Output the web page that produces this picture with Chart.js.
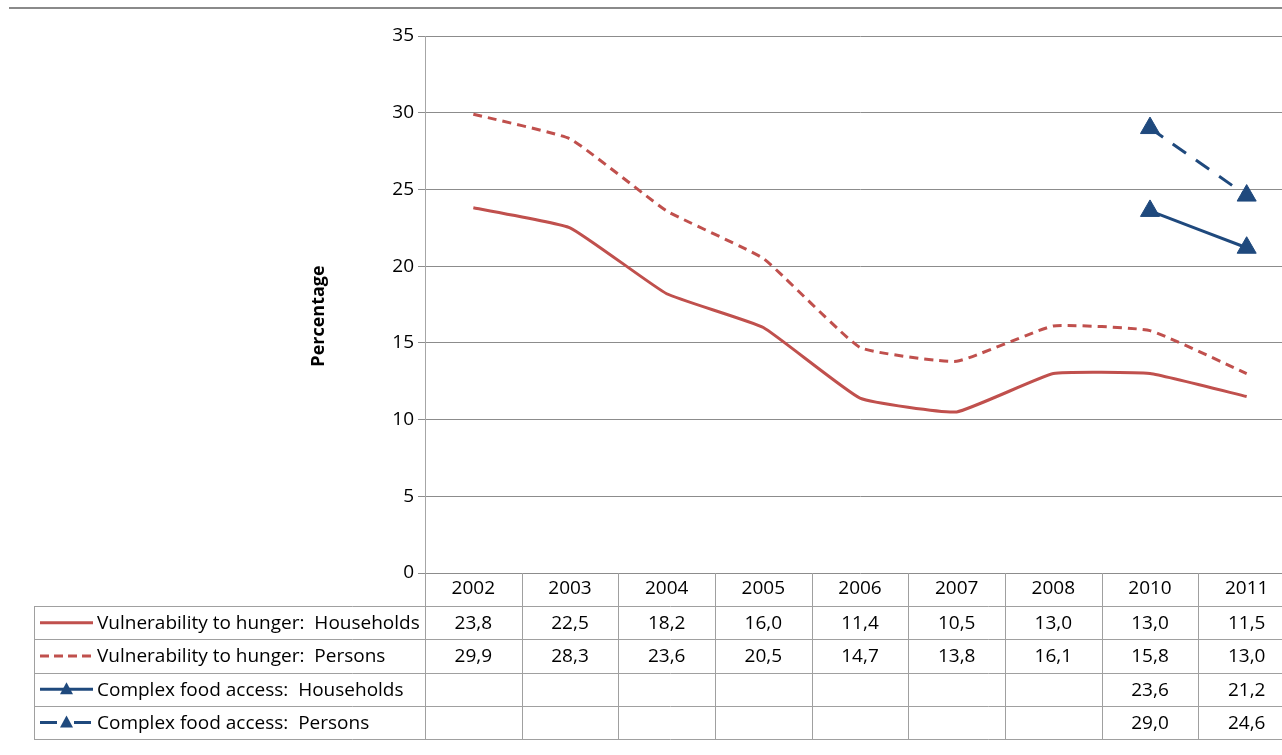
<!DOCTYPE html>
<html>
<head>
<meta charset="utf-8">
<script src="https://cdn.jsdelivr.net/npm/chart.js@4/dist/chart.umd.min.js"></script>
<style>
  html, body { margin: 0; padding: 0; background: #fff; overflow: hidden; }
  #wrap { width: 1307px; height: 755px; position: relative; }
</style>
</head>
<body>
<div id="wrap"><canvas id="chart" width="1307" height="755"></canvas></div>
<script>
// Survey years (no 2009 survey)
const years = ['2002', '2003', '2004', '2005', '2006', '2007', '2008', '2010', '2011'];

// Percentages per year
const hungerHouseholds = [23.8, 22.5, 18.2, 16.0, 11.4, 10.5, 13.0, 13.0, 11.5];
const hungerPersons = [29.9, 28.3, 23.6, 20.5, 14.7, 13.8, 16.1, 15.8, 13.0];
const foodAccessHouseholds = [null, null, null, null, null, null, null, 23.6, 21.2];
const foodAccessPersons = [null, null, null, null, null, null, null, 29.0, 24.6];

const seriesNames = [
  'Vulnerability to hunger:  Households',
  'Vulnerability to hunger:  Persons',
  'Complex food access:  Households',
  'Complex food access:  Persons'
];

const yMin = 0, yMax = 35, yStep = 5;
const yTitle = 'Percentage';

const RED = '#C0504D';
const BLUE = '#1F497D';
const GRID = '#8c8c8c';
const TABLE_LINE = '#a0a0a0';
const FONT = '"Open Sans", "Liberation Sans", sans-serif';
const FONT_SIZE = 19;

const fmt = v => (v === null || v === undefined) ? '' : v.toFixed(1).replace('.', ',');

// Draws the frame line, the axis title and the data table under the plot
const tablePlugin = {
  id: 'dataTable',
  afterDraw(chart) {
    const ctx = chart.ctx;
    const ca = chart.chartArea;
    const n = years.length;
    const colW = (ca.right - ca.left) / n;
    const headerBottom = ca.bottom + 33;
    const rowH = 33.25;
    const tableLeft = 34;
    const tableBottom = headerBottom + rowH * 4;
    const right = chart.width;

    ctx.save();

    // frame line across the top
    ctx.strokeStyle = '#8a8a8a';
    ctx.lineWidth = 2;
    ctx.beginPath();
    ctx.moveTo(9, 8);
    ctx.lineTo(right, 8);
    ctx.stroke();

    // axis title
    ctx.save();
    ctx.translate(319, 316);
    ctx.rotate(-Math.PI / 2);
    ctx.fillStyle = '#000';
    ctx.font = 'bold 18px ' + FONT;
    ctx.textAlign = 'center';
    ctx.textBaseline = 'middle';
    ctx.fillText(yTitle, 0, 0);
    ctx.restore();

    // table grid
    ctx.strokeStyle = TABLE_LINE;
    ctx.lineWidth = 1;
    ctx.beginPath();
    for (let r = 0; r <= 4; r++) {
      const y = Math.round(headerBottom + r * rowH) + 0.5;
      ctx.moveTo(tableLeft, y);
      ctx.lineTo(right, y);
    }
    ctx.moveTo(tableLeft + 0.5, headerBottom);
    ctx.lineTo(tableLeft + 0.5, tableBottom);
    for (let c = 0; c <= n; c++) {
      const x = Math.round(ca.left + c * colW) + 0.5;
      ctx.moveTo(x, ca.bottom);
      ctx.lineTo(x, tableBottom);
    }
    ctx.stroke();

    // rows: key sample, name, values
    const rows = [
      { data: hungerHouseholds, color: RED, dash: [], marker: false },
      { data: hungerPersons, color: RED, dash: [9, 5], marker: false },
      { data: foodAccessHouseholds, color: BLUE, dash: [], marker: true },
      { data: foodAccessPersons, color: BLUE, dash: [17, 17], marker: true }
    ];
    ctx.font = FONT_SIZE + 'px ' + FONT;
    ctx.textBaseline = 'middle';
    rows.forEach((row, r) => {
      const cy = headerBottom + r * rowH + rowH / 2;
      // key sample
      ctx.save();
      ctx.strokeStyle = row.color;
      ctx.lineWidth = 3;
      ctx.setLineDash(row.dash);
      ctx.beginPath();
      ctx.moveTo(40, cy);
      ctx.lineTo(93, cy);
      ctx.stroke();
      ctx.setLineDash([]);
      if (row.marker) {
        ctx.fillStyle = row.color;
        ctx.beginPath();
        ctx.moveTo(66.5, cy - 7);
        ctx.lineTo(73, cy + 5);
        ctx.lineTo(60, cy + 5);
        ctx.closePath();
        ctx.fill();
      }
      ctx.restore();

      ctx.fillStyle = '#000';
      ctx.textAlign = 'left';
      ctx.fillText(seriesNames[r], 97, cy + 1);
      ctx.textAlign = 'center';
      row.data.forEach((v, i) => {
        ctx.fillText(fmt(v), chart.scales.x.getPixelForValue(i), cy + 1);
      });
    });

    ctx.restore();
  }
};

const common = { borderWidth: 3, tension: 0.12, pointRadius: 0, spanGaps: false };

new Chart(document.getElementById('chart'), {
  type: 'line',
  data: {
    labels: years,
    datasets: [
      { ...common, label: seriesNames[0], data: hungerHouseholds, borderColor: RED, backgroundColor: RED },
      { ...common, label: seriesNames[1], data: hungerPersons, borderColor: RED, backgroundColor: RED, borderDash: [9, 6] },
      { ...common, label: seriesNames[2], data: foodAccessHouseholds, borderColor: BLUE, backgroundColor: BLUE,
        pointStyle: 'triangle', pointRadius: 11, pointBorderWidth: 1 },
      { ...common, label: seriesNames[3], data: foodAccessPersons, borderColor: BLUE, backgroundColor: BLUE,
        borderDash: [16, 12], pointStyle: 'triangle', pointRadius: 11, pointBorderWidth: 1 }
    ]
  },
  options: {
    responsive: false,
    animation: false,
    events: [],
    layout: { padding: { top: 36, left: 300, right: 4, bottom: 0 } },
    plugins: { legend: { display: false }, tooltip: { enabled: false } },
    scales: {
      x: {
        offset: true,
        grid: { display: false, drawTicks: false },
        border: { display: false },
        ticks: { color: '#000', font: { family: FONT, size: FONT_SIZE }, padding: 4, maxRotation: 0 },
        afterFit(scale) { scale.height = 182; }
      },
      y: {
        min: yMin,
        max: yMax,
        ticks: { stepSize: yStep, color: '#000', font: { family: FONT, size: FONT_SIZE }, padding: 4 },
        grid: { color: GRID, lineWidth: 1, tickLength: 7 },
        border: { display: true, color: '#a6a6a6', width: 1 },
        afterFit(scale) { scale.width = 125; }
      }
    }
  },
  plugins: [tablePlugin]
});
</script>
</body>
</html>
